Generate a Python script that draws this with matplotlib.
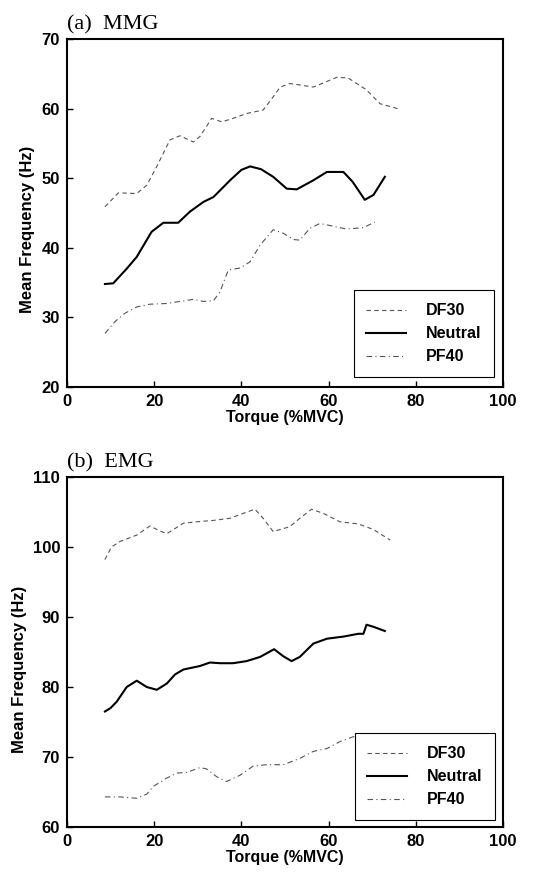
"""
Mean frequency vs torque for MMG and EMG at three ankle positions.
"""
import matplotlib
matplotlib.use('Agg')
import matplotlib.pyplot as plt

# (a) MMG
mmg_df30_x = [8.7, 11.8, 16.0, 18.3, 20.6, 23.6, 25.9, 29.0, 30.5, 33.2, 35.5, 38.1,
              41.2, 45.0, 47.3, 48.9, 51.1, 53.4, 56.5, 59.6, 61.9, 64.5, 68.7, 71.8,
              74.1, 76.4]
mmg_df30_y = [45.9, 47.9, 47.8, 49.0, 51.7, 55.5, 56.1, 55.2, 56.0, 58.6, 58.1, 58.6,
              59.3, 59.8, 61.7, 63.1, 63.6, 63.4, 63.1, 63.9, 64.5, 64.4, 62.7, 60.7,
              60.3, 59.9]

mmg_neu_x = [8.7, 10.6, 13.7, 16.0, 19.4, 22.1, 25.5, 28.2, 31.3, 33.6, 37.4, 40.0,
             42.0, 44.5, 47.3, 50.4, 52.7, 56.5, 59.6, 63.4, 65.5, 68.3, 70.3, 72.9]
mmg_neu_y = [34.8, 34.9, 37.0, 38.7, 42.3, 43.6, 43.6, 45.2, 46.6, 47.3, 49.7, 51.2,
             51.7, 51.3, 50.2, 48.5, 48.4, 49.7, 50.9, 50.9, 49.5, 46.9, 47.6, 50.2]

mmg_pf40_x = [8.7, 11.0, 13.3, 16.0, 19.0, 22.9, 25.9, 29.0, 31.3, 33.6, 35.1, 37.0,
              39.7, 42.0, 44.3, 47.3, 49.6, 51.9, 53.4, 55.7, 58.0, 61.1, 64.1, 68.0,
              70.6]
mmg_pf40_y = [27.7, 29.4, 30.6, 31.5, 31.9, 32.0, 32.3, 32.6, 32.3, 32.4, 33.7, 36.8,
              37.1, 38.0, 40.4, 42.6, 42.1, 41.2, 41.1, 42.8, 43.5, 43.1, 42.7, 42.9,
              43.7]

# (b) EMG
emg_df30_x = [8.7, 10.2, 12.2, 16.0, 19.0, 21.3, 22.9, 26.7, 29.7, 33.6, 37.4, 40.4,
              43.1, 45.0, 47.3, 51.1, 53.4, 56.1, 58.8, 62.6, 66.8, 70.3, 74.1]
emg_df30_y = [98.2, 100.0, 100.8, 101.7, 103.0, 102.3, 101.9, 103.4, 103.6, 103.8,
              104.1, 104.8, 105.4, 104.1, 102.2, 102.9, 104.1, 105.4, 104.8, 103.6,
              103.3, 102.5, 101.0]

emg_neu_x = [8.7, 10.0, 11.4, 13.7, 16.0, 18.3, 20.6, 22.9, 24.8, 26.7, 30.5, 32.8,
             35.1, 38.1, 41.2, 44.3, 47.5, 49.6, 51.5, 53.4, 56.5, 59.6, 63.4, 66.8,
             68.0, 68.7, 70.3, 72.9]
emg_neu_y = [76.5, 77.0, 77.9, 80.0, 80.9, 80.0, 79.6, 80.5, 81.8, 82.5, 83.0, 83.5,
             83.4, 83.4, 83.7, 84.3, 85.4, 84.4, 83.7, 84.3, 86.2, 86.9, 87.2, 87.6,
             87.6, 88.9, 88.6, 88.0]

emg_pf40_x = [8.7, 12.2, 16.0, 18.3, 19.8, 22.9, 25.2, 27.5, 30.5, 32.0, 34.3, 36.6,
              39.7, 42.7, 45.8, 49.6, 53.4, 56.5, 59.6, 62.6, 65.7, 68.7, 71.0]
emg_pf40_y = [64.3, 64.3, 64.1, 64.7, 65.8, 67.0, 67.7, 67.8, 68.5, 68.3, 67.2, 66.5,
              67.4, 68.7, 68.9, 68.9, 69.8, 70.8, 71.2, 72.2, 72.9, 73.3, 72.9]

labels = ['DF30', 'Neutral', 'PF40']
x_ticks = [0, 20, 40, 60, 80, 100]

fig = plt.figure(figsize=(5.42, 8.77), dpi=100)
plt.rcParams['font.family'] = ['Liberation Sans', 'DejaVu Sans']

panels = [
    ('(a)  MMG', [0.1236, 0.5587, 0.8044, 0.3968], (20, 70), [20, 30, 40, 50, 60, 70],
     (mmg_df30_x, mmg_df30_y), (mmg_neu_x, mmg_neu_y), (mmg_pf40_x, mmg_pf40_y),
     (0.979, 0.029), (-0.073, 0.454)),
    ('(b)  EMG', [0.1236, 0.0570, 0.8044, 0.3991], (60, 110), [60, 70, 80, 90, 100, 110],
     (emg_df30_x, emg_df30_y), (emg_neu_x, emg_neu_y), (emg_pf40_x, emg_pf40_y),
     (0.981, 0.020), (-0.092, 0.449)),
]

for title, rect, ylim, yticks, df30, neu, pf40, anchor, ylab_pos in panels:
    ax = fig.add_axes(rect)
    ax.plot(*df30, color='#555555', lw=0.8, ls=(0, (4, 3)), label=labels[0])
    ax.plot(*neu, color='black', lw=1.5, label=labels[1])
    ax.plot(*pf40, color='#555555', lw=0.8, ls=(0, (5, 3, 1, 3)), label=labels[2])
    ax.set_xlim(0, 100)
    ax.set_ylim(*ylim)
    ax.set_xticks(x_ticks)
    ax.set_yticks(yticks)
    ax.tick_params(direction='in', length=4, width=1, labelsize=12, pad=5)
    for lab in ax.get_xticklabels() + ax.get_yticklabels():
        lab.set_fontweight('bold')
    for sp in ax.spines.values():
        sp.set_linewidth(1.5)
    ax.set_xlabel('Torque (%MVC)', fontsize=11.5, fontweight='bold', labelpad=1)
    ax.set_ylabel('Mean Frequency (Hz)', fontsize=12, fontweight='bold')
    ax.yaxis.set_label_coords(*ylab_pos)
    ax.set_title(title, loc='left', fontsize=16, family='Liberation Serif', pad=7,
                 x=0.0)
    leg = ax.legend(loc='lower right', bbox_to_anchor=anchor, borderaxespad=0,
                    fancybox=False, edgecolor='black', handlelength=2.5,
                    handletextpad=1.2, labelspacing=0.5, borderpad=0.8,
                    prop={'weight': 'bold', 'size': 11.5})
    leg.get_frame().set_linewidth(0.8)
    leg.get_frame().set_alpha(1)

fig.savefig('out.png', dpi=100)
